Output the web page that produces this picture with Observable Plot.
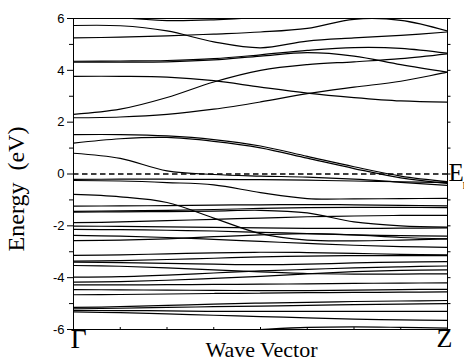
<!DOCTYPE html>
<html>
<head>
<meta charset="utf-8">
<script src="https://cdn.jsdelivr.net/npm/d3@7"></script>
<script src="https://cdn.jsdelivr.net/npm/@observablehq/plot@0.6"></script>
<style>
  html, body { margin: 0; padding: 0; background: #fff; overflow: hidden; }
</style>
</head>
<body>
<div id="chart"></div>
<script>
// k-path sample points from Γ (0) to Z (1)
const kGrid = [0, 0.125, 0.25, 0.375, 0.5, 0.625, 0.75, 0.875, 1];

// Conduction bands (eV), values at kGrid
const conductionBands = [
  [6.30, 6.05, 5.92, 5.95, 6.05, 6.20, 6.40, 6.50, 6.50],
  [5.25, 5.28, 5.33, 5.40, 5.48, 5.62, 5.97, 5.93, 5.52],
  [5.73, 5.72, 5.52, 5.10, 4.87, 5.13, 5.25, 5.35, 5.48],
  [4.35, 4.36, 4.38, 4.45, 4.60, 4.77, 4.88, 4.85, 4.66],
  [4.32, 4.32, 4.33, 4.40, 4.55, 4.68, 4.55, 4.22, 3.93],
  [2.30, 2.50, 2.95, 3.55, 4.00, 4.22, 4.33, 4.45, 4.64],
  [3.77, 3.77, 3.74, 3.60, 3.35, 3.12, 2.95, 2.82, 2.77],
  [2.17, 2.20, 2.30, 2.50, 2.78, 3.10, 3.35, 3.58, 3.93],
  [1.52, 1.52, 1.47, 1.33, 1.08, 0.68, 0.28, -0.08, -0.30],
  [1.19, 1.36, 1.41, 1.26, 1.01, 0.61, 0.21, -0.15, -0.36],
  [0.80, 0.60, 0.12, -0.02, -0.08, -0.12, -0.20, -0.32, -0.44]
];

// Valence bands near the Fermi level (eV)
const upperValenceBands = [
  [-0.21, -0.20, -0.20, -0.21, -0.22, -0.24, -0.27, -0.30, -0.33],
  [-0.25, -0.27, -0.33, -0.42, -0.72, -0.95, -0.96, -0.95, -0.94],
  [-0.79, -0.88, -1.10, -1.70, -2.30, -2.55, -2.58, -2.55, -2.50],
  [-1.24, -1.23, -1.22, -1.20, -1.19, -1.18, -1.19, -1.21, -1.23],
  [-1.44, -1.42, -1.40, -1.37, -1.33, -1.30, -1.29, -1.29, -1.30],
  [-1.47, -1.46, -1.45, -1.43, -1.40, -1.50, -1.85, -2.00, -2.05],
  [-1.88, -1.85, -1.80, -1.75, -1.70, -1.65, -1.62, -1.60, -1.60],
  [-2.01, -2.02, -2.04, -2.06, -2.08, -2.10, -2.10, -2.09, -2.08],
  [-2.14, -2.15, -2.17, -2.20, -2.25, -2.30, -2.35, -2.38, -2.40],
  [-2.37, -2.40, -2.45, -2.52, -2.60, -2.68, -2.75, -2.80, -2.83],
  [-2.57, -2.55, -2.50, -2.42, -2.35, -2.30, -2.35, -2.45, -2.50]
];

// Deeper valence bands (eV)
const lowerValenceBands = [
  [-3.14, -3.12, -3.08, -3.04, -3.02, -3.03, -3.06, -3.10, -3.12],
  [-3.36, -3.34, -3.30, -3.25, -3.20, -3.17, -3.15, -3.15, -3.15],
  [-3.40, -3.42, -3.45, -3.48, -3.50, -3.48, -3.43, -3.40, -3.38],
  [-3.53, -3.56, -3.62, -3.70, -3.78, -3.84, -3.86, -3.86, -3.85],
  [-3.98, -3.96, -3.90, -3.82, -3.74, -3.68, -3.62, -3.58, -3.55],
  [-4.17, -4.15, -4.10, -4.03, -3.95, -3.85, -3.77, -3.72, -3.70],
  [-4.28, -4.28, -4.27, -4.26, -4.25, -4.24, -4.22, -4.21, -4.20],
  [-4.46, -4.47, -4.48, -4.49, -4.50, -4.50, -4.48, -4.46, -4.45],
  [-4.66, -4.65, -4.63, -4.61, -4.60, -4.58, -4.57, -4.56, -4.55],
  [-5.15, -5.12, -5.07, -5.02, -4.98, -4.95, -4.92, -4.90, -4.88],
  [-5.20, -5.18, -5.15, -5.12, -5.10, -5.07, -5.04, -5.02, -5.00],
  [-5.26, -5.27, -5.28, -5.30, -5.30, -5.30, -5.30, -5.30, -5.30],
  [-5.32, -5.35, -5.40, -5.45, -5.50, -5.55, -5.60, -5.63, -5.65],
  [-6.50, -6.40, -6.25, -6.10, -6.00, -5.92, -5.90, -5.92, -5.95]
];

const yMajorTicks = [-6, -4, -2, 0, 2, 4, 6];
const yMinorTicks = [-5, -3, -1, 1, 3, 5];
const yAllTicks = [-6, -5, -4, -3, -2, -1, 0, 1, 2, 3, 4, 5, 6];
const xMinorTicks = [0.125, 0.25, 0.375, 0.5, 0.625, 0.75, 0.875];
const fermiLevel = [0];
const startLabel = ["Γ"];
const endLabel = ["Z"];
const xTitle = ["Wave Vector"];
const yTitle = ["Energy\u00a0\u00a0(eV)"];
const fermiLabel = ["E"];
const fermiSub = ["F"];

const rows = [];
[...conductionBands, ...upperValenceBands, ...lowerValenceBands].forEach((band, i) => {
  band.forEach((e, j) => rows.push({band: i, k: kGrid[j], e}));
});

const serif = "'Liberation Serif', 'Times New Roman', serif";
const sans = "'Liberation Sans', Arial, sans-serif";

const chart = Plot.plot({
  width: 464,
  height: 361,
  marginLeft: 73,
  marginRight: 17,
  marginTop: 18,
  marginBottom: 32,
  style: {background: "#fff", color: "#000", fontFamily: sans, overflow: "visible"},
  x: {domain: [0, 1], axis: null},
  y: {domain: [-6, 6], axis: null},
  marks: [
    Plot.line(rows, {x: "k", y: "e", z: "band", stroke: "#000", strokeWidth: 1.2, curve: "catmull-rom", clip: true}),
    Plot.ruleY(fermiLevel, {stroke: "#000", strokeWidth: 1.3, strokeDasharray: "5.5,3.5"}),
    Plot.frame({stroke: "#000", strokeWidth: 1}),
    Plot.axisY({anchor: "left", ticks: yMajorTicks, tickSize: 6, tickPadding: 3, fontSize: 13, fontFamily: sans, tickFormat: d => String(d), label: null}),
    Plot.axisY({anchor: "left", ticks: yMinorTicks, tickSize: 4, tickFormat: () => "", label: null}),
    Plot.axisY({anchor: "right", ticks: yAllTicks, tickSize: 2.5, tickFormat: () => "", label: null}),
    Plot.axisX({anchor: "bottom", ticks: xMinorTicks, tickSize: -2, tickFormat: () => "", label: null}),
    Plot.text(startLabel, {frameAnchor: "bottom-left", text: d => d, textAnchor: "start", dx: -3, dy: 18, fontSize: 28, fontFamily: serif}),
    Plot.text(endLabel, {frameAnchor: "bottom-right", text: d => d, textAnchor: "middle", dx: -3, dy: 17, fontSize: 26, fontFamily: serif}),
    Plot.text(xTitle, {frameAnchor: "bottom", text: d => d, textAnchor: "middle", dx: 1, dy: 27, fontSize: 22, fontFamily: serif}),
    Plot.text(yTitle, {frameAnchor: "left", text: d => d, rotate: -90, textAnchor: "middle", dx: -57, dy: 15, fontSize: 24, fontFamily: serif}),
    Plot.text(fermiLabel, {frameAnchor: "right", text: d => d, textAnchor: "start", dx: 1, dy: -1, fontSize: 25, fontFamily: serif}),
    Plot.text(fermiSub, {frameAnchor: "right", text: d => d, textAnchor: "start", dx: 15, dy: 12, fontSize: 10, fontFamily: serif})
  ]
});
document.getElementById("chart").appendChild(chart);
</script>
</body>
</html>
